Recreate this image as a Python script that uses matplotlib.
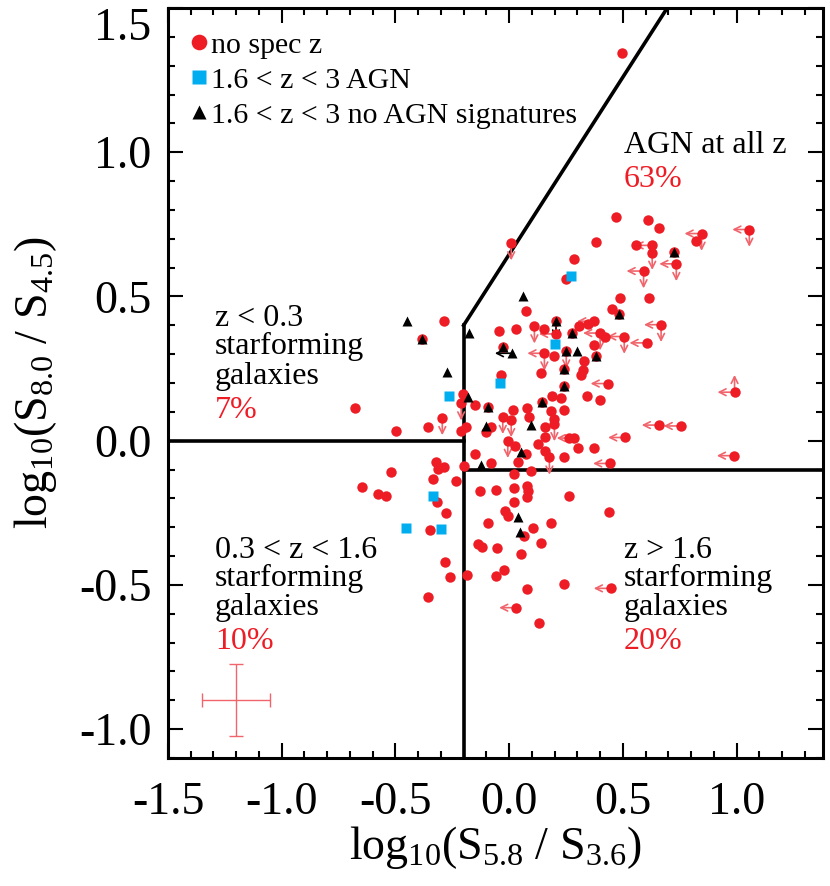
import numpy as np
import matplotlib
matplotlib.use('Agg')
import matplotlib.pyplot as plt
from matplotlib.ticker import MultipleLocator

plt.rcParams['font.family'] = ['Liberation Serif', 'DejaVu Serif']
plt.rcParams['mathtext.fontset'] = 'custom'
plt.rcParams['mathtext.rm'] = 'Liberation Serif'
plt.rcParams['mathtext.it'] = 'Liberation Serif:italic'

# red circles: no spec z  (lim: L = upper limit in x, D = upper limit in y, U = lower limit in y)
red_x = [-0.286, -0.383, -0.678, -0.294, -0.355, -0.496, -0.21, -0.189, -0.203, -0.211,
         0.469, 0.611, 0.661, 0.846, 1.056, 0.822, 0.009, 0.382, 0.559, 0.626,
         0.629, 0.725, 0.735, 0.591, 0.285, 0.249, 0.487, 0.614, 0.072, 0.453,
         0.484, -0.044, 0.029, 0.111, 0.151, 0.206, 0.275, 0.307, 0.345, 0.374,
         0.40, 0.423, 0.506, 0.668, 0.604, 0.374, -0.029, 0.155, 0.199, 0.251,
         0.384, 0.327, 0.140, 0.243, 0.323, 0.316, -0.035, 0.433, 0.243, 0.991,
         0.342, 0.40, 0.187, 0.228, -0.152, -0.094, 0.143, 0.24, 0.184, 0.079,
         0.015, -0.028, 0.009, 0.089, 0.199, 0.199, 0.159, -0.079, -0.101, 0.754,
         0.658, 0.51, 0.265, 0.284, 0.159, 0.126, -0.006, 0.026, 0.304, 0.371,
         0.075, 0.158, 0.177, 0.243, 0.444, -0.152, -0.082, -0.199, 0.041, 0.096,
         0.023, -0.323, -0.313, -0.288, -0.518, -0.645, -0.576, -0.543, -0.333, -0.232,
         -0.316, -0.279, -0.348, -0.284, -0.262, -0.358, -0.184, -0.126, -0.057, 0.021,
         0.079, 0.085, 0.079, 0.021, 0.265, 0.437, -0.018, -0.003, 0.064, 0.105,
         0.184, -0.091, -0.135, -0.12, -0.054, 0.05, 0.14, -0.021, -0.06, 0.079,
         0.24, 0.447, 0.031, 0.13, 0.988, 0.496, 0.206]
red_y = [0.414, 0.351, 0.113, 0.079, 0.049, 0.032, 0.032, 0.046, 0.162, 0.13,
         0.775, 0.764, 0.738, 0.718, 0.732, 0.691, 0.685, 0.69, 0.677, 0.677,
         0.652, 0.654, 0.613, 0.588, 0.631, 0.562, 0.494, 0.495, 0.451, 0.457,
         0.44, 0.381, 0.388, 0.397, 0.388, 0.37, 0.373, 0.396, 0.405, 0.414,
         0.373, 0.361, 0.361, 0.402, 0.339, 0.331, 0.324, 0.303, 0.292, 0.31,
         0.293, 0.275, 0.234, 0.249, 0.245, 0.229, 0.228, 0.198, 0.191, 0.168,
         0.156, 0.141, 0.156, 0.148, 0.125, 0.116, 0.133, 0.106, 0.102, 0.112,
         0.106, 0.083, 0.072, 0.083, 0.075, 0.058, 0.049, 0.046, 0.03, 0.051,
         0.054, 0.011, 0.009, 0.009, 0.014, -0.012, 0.0, -0.017, -0.025, -0.025,
         -0.046, -0.035, -0.058, -0.056, -0.079, -0.046, -0.079, -0.087, -0.075, -0.104,
         -0.116, -0.075, -0.098, -0.090, -0.107, -0.16, -0.185, -0.191, -0.134, -0.141,
         -0.211, -0.25, -0.31, -0.42, -0.472, -0.542, -0.465, -0.176, -0.171, -0.164,
         -0.156, -0.176, -0.197, -0.211, -0.192, -0.247, -0.243, -0.26, -0.33, -0.304,
         -0.287, -0.284, -0.359, -0.37, -0.373, -0.394, -0.355, -0.449, -0.469, -0.513,
         -0.498, -0.512, -0.579, -0.632, -0.052, 1.343, 0.414]
red_lim = ['', '', '', 'D', '', '', '', '', '', 'D',
           '', '', '', 'LD', 'LD', '', 'D', '', '', 'L',
           'D', '', 'LD', 'LD', '', '', '', '', '', '',
           '', '', '', 'D', '', 'L', '', '', '', 'L',
           'LD', '', 'LD', 'LD', 'L', '', '', 'LD', '', 'D',
           '', '', '', '', '', '', '', 'L', '', 'LU',
           '', '', '', '', '', '', '', '', '', '',
           '', 'D', 'D', '', '', 'D', '', '', '', 'L',
           'L', 'L', '', 'L', '', '', 'D', '', '', '',
           '', '', 'D', '', 'L', '', '', '', '', '',
           '', '', '', '', '', '', '', '', '', '',
           '', '', '', '', '', '', '', '', '', '',
           '', '', '', '', '', '', '', '', '', '',
           '', '', '', '', '', '', '', '', '', '',
           '', 'L', 'L', '', 'L', '', '']

# cyan squares: 1.6 < z < 3 AGN
agn_x = [-0.266, 0.272, 0.202, -0.041, -0.333, -0.452, -0.301]
agn_y = [0.156, 0.572, 0.336, 0.199, -0.191, -0.304, -0.307]

# black triangles: 1.6 < z < 3 no AGN signatures
sf_x = [-0.449, -0.383, -0.273, 0.063, 0.484, -0.175, 0.206, 0.275, -0.029, 0.012,
        0.251, 0.298, 0.384, 0.243, 0.243, -0.179, -0.094, 0.143, 0.094, -0.10,
        0.725, 0.053, -0.123, 0.038, 0.047]
sf_y = [0.414, 0.351, 0.237, 0.503, 0.44, 0.373, 0.414, 0.373, 0.324, 0.303,
        0.31, 0.31, 0.293, 0.249, 0.191, 0.153, 0.116, 0.133, 0.056, 0.05,
        0.654, -0.041, -0.083, -0.264, -0.315]
sf_lim = ['', '', '', '', '', '', 'D', '', '', 'L',
          '', '', '', '', '', '', '', '', '', '',
          '', '', '', '', '']

red = '#ee1c25'
arrow_red = '#f0646c'
cyan = '#00aeef'

fig = plt.figure(figsize=(8.3, 8.86), dpi=100)
ax = fig.add_axes([0.2024, 0.1445, 0.7892, 0.8465])


def draw_limits(xs, ys, lims, color):
    for x, y, lim in zip(xs, ys, lims):
        for d in lim:
            if d == 'L':
                end = (x - 0.075, y)
            elif d == 'D':
                end = (x, y - 0.06)
            else:
                end = (x, y + 0.06)
            ax.annotate('', xy=end, xytext=(x, y),
                        arrowprops=dict(arrowstyle='->', color=color, lw=1.2,
                                        shrinkA=0, shrinkB=0, mutation_scale=12),
                        zorder=2)


draw_limits(red_x, red_y, red_lim, arrow_red)
draw_limits(sf_x, sf_y, sf_lim, 'black')

ax.plot(red_x, red_y, 'o', color=red, ms=7.5, mec='none', zorder=3, label='no spec z')
ax.plot(agn_x, agn_y, 's', color=cyan, ms=6.5, mec='none', zorder=4,
        label='1.6 < z < 3 AGN')
ax.plot(sf_x, sf_y, '^', color='black', ms=7, mec='none', zorder=5,
        label='1.6 < z < 3 no AGN signatures')

# region boundaries
ax.plot([-1.5, -0.2], [0, 0], color='black', lw=2.6, zorder=1)
ax.plot([-0.2, -0.2], [-1.1, 0.4], color='black', lw=2.6, zorder=1)
ax.plot([-0.2, 1.38], [-0.1, -0.1], color='black', lw=2.6, zorder=1)
ax.plot([-0.2, 0.695], [0.4, 1.5], color='black', lw=2.6, zorder=1)

# typical error bar
ax.errorbar([-1.2], [-0.9], xerr=[0.15], yerr=[0.125], color=arrow_red, lw=1,
            capsize=5, capthick=1)

fs = 23
ax.text(-1.294, 0.396, 'z < 0.3', fontsize=fs, va='baseline')
ax.text(-1.294, 0.299, 'starforming', fontsize=fs, va='baseline')
ax.text(-1.294, 0.198, 'galaxies', fontsize=fs, va='baseline')
ax.text(-1.294, 0.08, '7%', fontsize=fs, va='baseline', color=red)

ax.text(-1.294, -0.406, '0.3 < z < 1.6', fontsize=fs, va='baseline')
ax.text(-1.294, -0.503, 'starforming', fontsize=fs, va='baseline')
ax.text(-1.294, -0.604, 'galaxies', fontsize=fs, va='baseline')
ax.text(-1.294, -0.722, '10%', fontsize=fs, va='baseline', color=red)

ax.text(0.504, -0.406, 'z > 1.6', fontsize=fs, va='baseline')
ax.text(0.504, -0.503, 'starforming', fontsize=fs, va='baseline')
ax.text(0.504, -0.604, 'galaxies', fontsize=fs, va='baseline')
ax.text(0.504, -0.722, '20%', fontsize=fs, va='baseline', color=red)

ax.text(0.504, 0.997, 'AGN at all z', fontsize=fs, va='baseline')
ax.text(0.504, 0.878, '63%', fontsize=fs, va='baseline', color=red)

ax.legend(loc='upper left', frameon=False, fontsize=21.5, handlelength=0.5,
          handletextpad=0.15, labelspacing=0.27, borderaxespad=0.45,
          borderpad=0.35, markerscale=1.5)

ax.set_xlim(-1.5, 1.38)
ax.set_ylim(-1.1, 1.5)
ax.xaxis.set_minor_locator(MultipleLocator(0.1))
ax.yaxis.set_minor_locator(MultipleLocator(0.1))
ax.set_xticks([-1.5, -1.0, -0.5, 0.0, 0.5, 1.0])
ax.set_xticklabels(['-1.5', '-1.0', '-0.5', '0.0', '0.5', '1.0'])
ax.set_yticks([-1.0, -0.5, 0.0, 0.5, 1.0, 1.5])
ax.set_yticklabels(['-1.0', '-0.5', '0.0', '0.5', '1.0', '1.5'])
ax.tick_params(which='both', direction='in', top=True, right=True, labelsize=33, width=1.5)
ax.tick_params(axis='x', which='major', length=11, pad=17)
ax.tick_params(axis='y', which='major', length=11, pad=12)
ax.tick_params(which='minor', length=5)
ax.get_yticklabels()[-1].set_va('top')
for s in ax.spines.values():
    s.set_linewidth(2.2)

ax.set_xlabel(r'log$_{\mathrm{10}}$(S$_{\mathrm{5.8}}$ / S$_{\mathrm{3.6}}$)', fontsize=33, labelpad=0)
ax.set_ylabel(r'log$_{\mathrm{10}}$(S$_{\mathrm{8.0}}$ / S$_{\mathrm{4.5}}$)', fontsize=33, labelpad=14)

fig.savefig('out.png', dpi=100)
